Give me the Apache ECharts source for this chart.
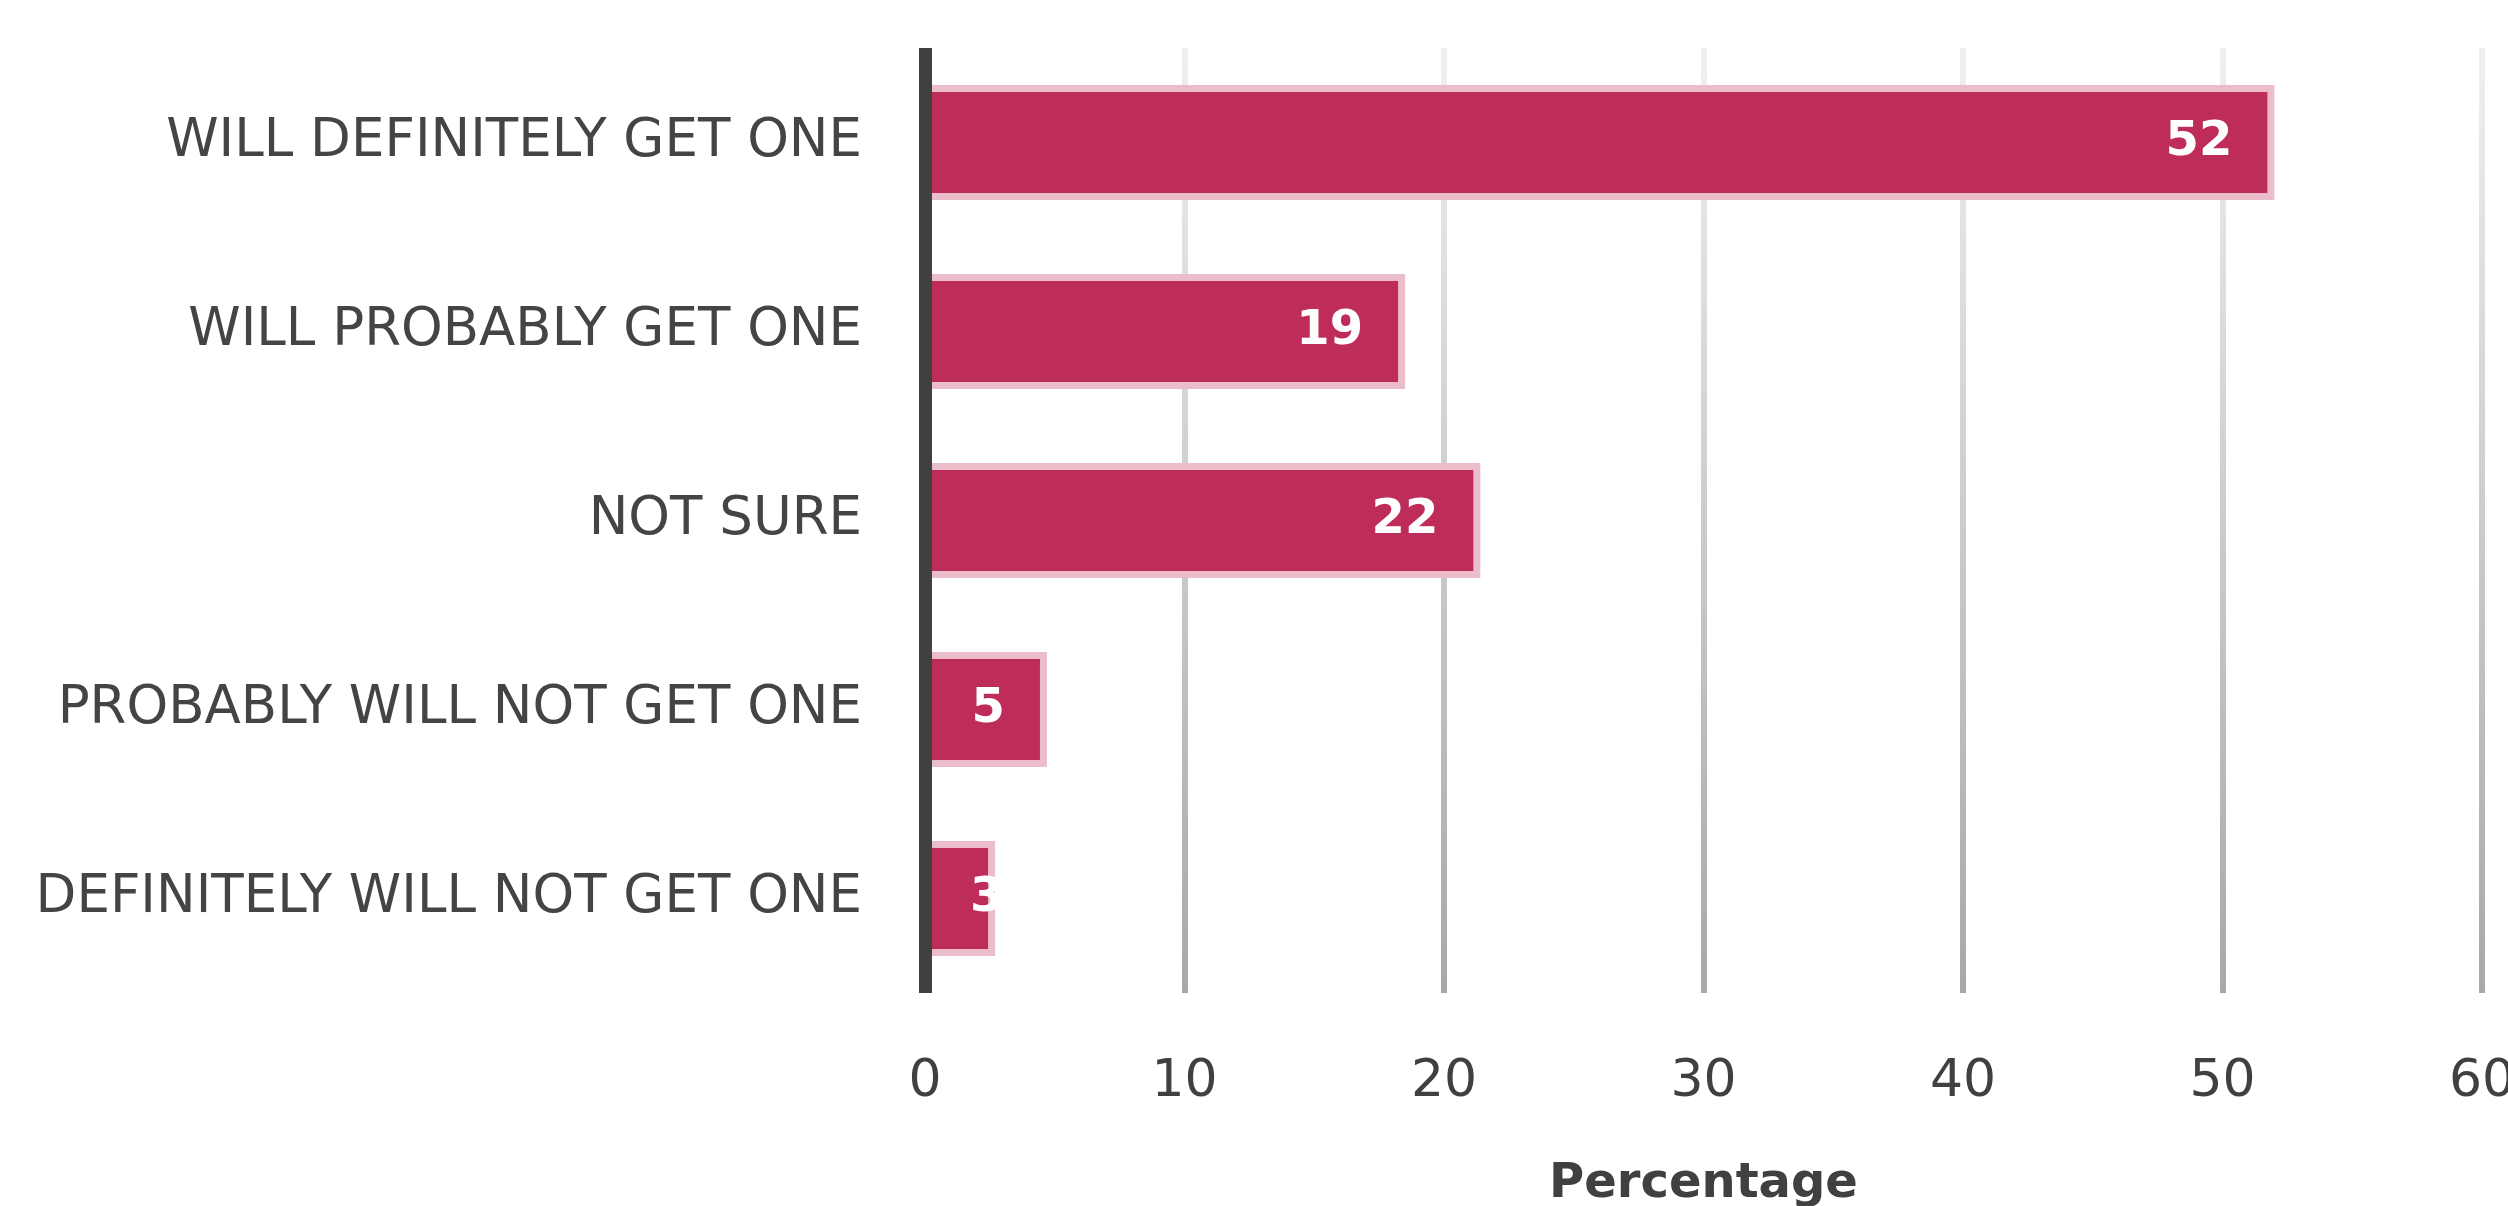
<!DOCTYPE html>
<html>
<head>
<meta charset="utf-8">
<script src="https://cdn.jsdelivr.net/npm/echarts@6/dist/echarts.min.js"></script>
<style>
html,body{margin:0;padding:0;background:#fff;overflow:hidden;}
#chart{width:2508px;height:1206px;}
</style>
</head>
<body>
<div id="chart"></div>
<script>
var categories = [
  'WILL DEFINITELY GET ONE',
  'WILL PROBABLY GET ONE',
  'NOT SURE',
  'PROBABLY WILL NOT GET ONE',
  'DEFINITELY WILL NOT GET ONE'
];
// bar lengths as drawn in the picture
var values = [52, 18.5, 21.4, 4.7, 2.7];
// value labels printed on the bars
var valueLabels = ['52', '19', '22', '5', '3'];
var xTicks = [0, 10, 20, 30, 40, 50, 60];

var FONT = 'DejaVu Sans';
var chart = echarts.init(document.getElementById('chart'));

var seriesData = values.map(function (v, i) {
  var item = { value: v };
  if (v < 4) {
    item.label = { position: 'insideLeft', distance: 45 };
  }
  return item;
});

chart.setOption({
  animation: false,
  backgroundColor: '#ffffff',
  grid: { left: 925, right: 26, top: 48, bottom: 213, containLabel: false, outerBoundsMode: 'none' },
  xAxis: {
    type: 'value',
    min: xTicks[0],
    max: xTicks[xTicks.length - 1],
    interval: xTicks[1] - xTicks[0],
    name: 'Percentage',
    nameLocation: 'middle',
    nameGap: 168,
    nameTextStyle: { fontFamily: FONT, fontSize: 48, fontWeight: 'bold', color: '#404040' },
    axisLine: { show: false },
    axisTick: { show: false },
    axisLabel: { fontFamily: FONT, fontSize: 52, color: '#404040', margin: 63 },
    splitLine: {
      show: true,
      lineStyle: {
        width: 6,
        color: {
          type: 'linear', x: 0, y: 0, x2: 0, y2: 1,
          colorStops: [
            { offset: 0, color: '#f0f0f0' },
            { offset: 0.5, color: '#cccccc' },
            { offset: 1, color: '#a8a8a8' }
          ]
        }
      }
    }
  },
  yAxis: {
    type: 'category',
    inverse: true,
    data: categories,
    z: 5,
    axisLine: { show: true, lineStyle: { color: '#404040', width: 13, cap: 'butt' } },
    axisTick: { show: false },
    splitLine: { show: false },
    axisLabel: { fontFamily: FONT, fontSize: 53, color: '#444444', margin: 63 }
  },
  series: [{
    type: 'bar',
    data: seriesData,
    barWidth: 115,
    itemStyle: { color: '#be2c5a', borderColor: '#ebbdcb', borderWidth: 7 },
    label: {
      show: true,
      position: 'insideRight',
      distance: 42,
      fontFamily: FONT,
      fontSize: 48,
      fontWeight: 'bold',
      color: '#ffffff',
      formatter: function (p) { return valueLabels[p.dataIndex]; }
    }
  }]
});
</script>
</body>
</html>
